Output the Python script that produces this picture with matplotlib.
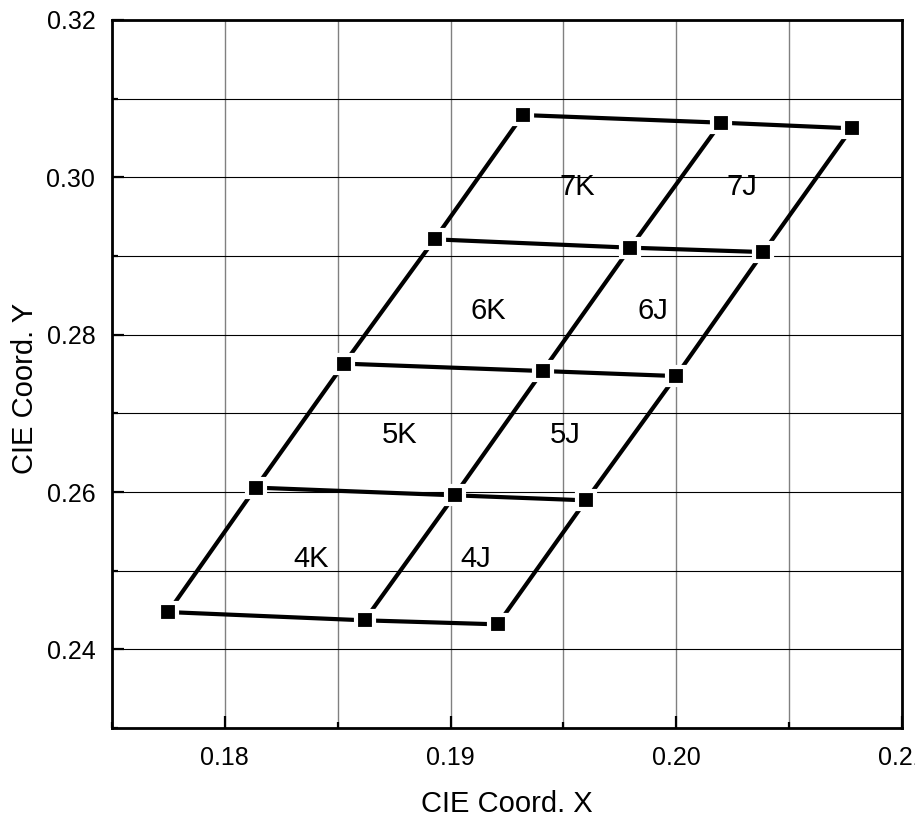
import numpy as np
import matplotlib.pyplot as plt
from matplotlib.ticker import MultipleLocator, FormatStrFormatter

plt.rcParams['font.family'] = ['Liberation Sans', 'DejaVu Sans']

# colour coordinates of the bin corners, bottom row first
left_x = [0.17749, 0.18137, 0.18528, 0.18929, 0.19320]
left_y = [0.24474, 0.26056, 0.27632, 0.29212, 0.30792]
mid_x = [0.18619, 0.19018, 0.19408, 0.19796, 0.20198]
mid_y = [0.24369, 0.25958, 0.27538, 0.29106, 0.30695]
right_x = [0.19209, 0.19600, 0.19999, 0.20386, 0.20777]
right_y = [0.24318, 0.25894, 0.27474, 0.29050, 0.30623]

row_names = ['4', '5', '6', '7']
col_names = ['K', 'J']

xs = np.array([left_x, mid_x, right_x])
ys = np.array([left_y, mid_y, right_y])

fig = plt.figure(figsize=(9.15, 8.23), dpi=100)
ax = fig.add_axes([0.1224, 0.1154, 0.8634, 0.8603])

# slanted columns
for c in range(xs.shape[0]):
    ax.plot(xs[c], ys[c], color='black', lw=3, solid_capstyle='butt', zorder=3)
# rows
for r in range(xs.shape[1]):
    ax.plot(xs[:, r], ys[:, r], color='black', lw=3, solid_capstyle='butt', zorder=3)

ax.plot(xs.ravel(), ys.ravel(), ls='none', marker='s', ms=12.5,
        mfc='black', mec='white', mew=3, zorder=4)

# bin names inside each cell, same height along a row
for r, rn in enumerate(row_names):
    cy = ys[:, r:r + 2].mean()
    for c, cn in enumerate(col_names):
        cx = xs[c:c + 2, r:r + 2].mean()
        ax.text(cx, cy - 0.0003, rn + cn, fontsize=21, ha='center', va='center', zorder=5)

ax.set_xlim(0.175, 0.21)
ax.set_ylim(0.23, 0.32)
ax.xaxis.set_major_locator(MultipleLocator(0.01))
ax.xaxis.set_minor_locator(MultipleLocator(0.005))
ax.yaxis.set_major_locator(MultipleLocator(0.02))
ax.yaxis.set_minor_locator(MultipleLocator(0.01))
ax.xaxis.set_major_formatter(FormatStrFormatter('%.2f'))
ax.yaxis.set_major_formatter(FormatStrFormatter('%.2f'))

ax.grid(which='both', axis='x', color='#808080', lw=1.0)
ax.grid(which='both', axis='y', color='black', lw=0.8)

ax.tick_params(which='major', direction='in', length=8.5, width=1.6, labelsize=18)
ax.tick_params(which='minor', direction='in', length=4, width=1.6)
ax.tick_params(axis='x', which='major', pad=13)
ax.tick_params(axis='y', which='major', pad=12)

for s in ax.spines.values():
    s.set_linewidth(2)

ax.set_xlabel('CIE Coord. X', fontsize=21)
ax.set_ylabel('CIE Coord. Y', fontsize=21)
ax.xaxis.set_label_coords(0.5, -0.087)
ax.yaxis.set_label_coords(-0.092, 0.48)

fig.savefig('out.png', dpi=100)
